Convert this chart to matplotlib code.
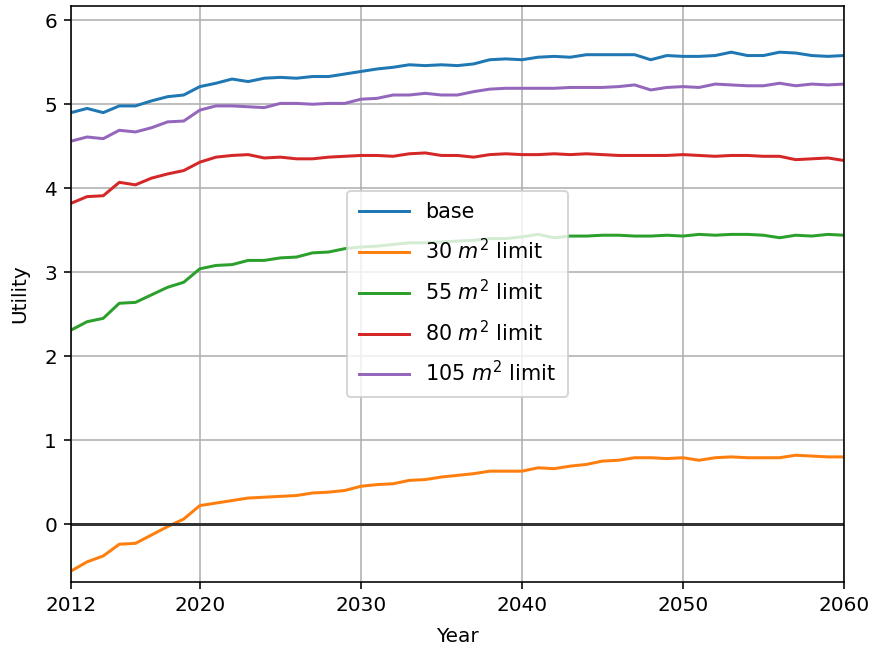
import numpy as np
import matplotlib
matplotlib.use("Agg")
import matplotlib.pyplot as plt

years = np.arange(2012, 2061)

base = [4.90, 4.95, 4.90, 4.98, 4.98, 5.04, 5.09, 5.11, 5.21, 5.25,
        5.30, 5.27, 5.31, 5.32, 5.31, 5.33, 5.33, 5.36, 5.39, 5.42,
        5.44, 5.47, 5.46, 5.47, 5.46, 5.48, 5.53, 5.54, 5.53, 5.56,
        5.57, 5.56, 5.59, 5.59, 5.59, 5.59, 5.53, 5.58, 5.57, 5.57,
        5.58, 5.62, 5.58, 5.58, 5.62, 5.61, 5.58, 5.57, 5.58]

limit_30 = [-0.56, -0.45, -0.38, -0.24, -0.23, -0.13, -0.03, 0.06, 0.22, 0.25,
            0.28, 0.31, 0.32, 0.33, 0.34, 0.37, 0.38, 0.40, 0.45, 0.47,
            0.48, 0.52, 0.53, 0.56, 0.58, 0.60, 0.63, 0.63, 0.63, 0.67,
            0.66, 0.69, 0.71, 0.75, 0.76, 0.79, 0.79, 0.78, 0.79, 0.76,
            0.79, 0.80, 0.79, 0.79, 0.79, 0.82, 0.81, 0.80, 0.80]

limit_55 = [2.31, 2.41, 2.45, 2.63, 2.64, 2.73, 2.82, 2.88, 3.04, 3.08,
            3.09, 3.14, 3.14, 3.17, 3.18, 3.23, 3.24, 3.28, 3.30, 3.31,
            3.33, 3.35, 3.35, 3.36, 3.37, 3.38, 3.40, 3.40, 3.42, 3.45,
            3.41, 3.43, 3.43, 3.44, 3.44, 3.43, 3.43, 3.44, 3.43, 3.45,
            3.44, 3.45, 3.45, 3.44, 3.41, 3.44, 3.43, 3.45, 3.44]

limit_80 = [3.82, 3.90, 3.91, 4.07, 4.04, 4.12, 4.17, 4.21, 4.31, 4.37,
            4.39, 4.40, 4.36, 4.37, 4.35, 4.35, 4.37, 4.38, 4.39, 4.39,
            4.38, 4.41, 4.42, 4.39, 4.39, 4.37, 4.40, 4.41, 4.40, 4.40,
            4.41, 4.40, 4.41, 4.40, 4.39, 4.39, 4.39, 4.39, 4.40, 4.39,
            4.38, 4.39, 4.39, 4.38, 4.38, 4.34, 4.35, 4.36, 4.33]

limit_105 = [4.56, 4.61, 4.59, 4.69, 4.67, 4.72, 4.79, 4.80, 4.93, 4.98,
             4.98, 4.97, 4.96, 5.01, 5.01, 5.00, 5.01, 5.01, 5.06, 5.07,
             5.11, 5.11, 5.13, 5.11, 5.11, 5.15, 5.18, 5.19, 5.19, 5.19,
             5.19, 5.20, 5.20, 5.20, 5.21, 5.23, 5.17, 5.20, 5.21, 5.20,
             5.24, 5.23, 5.22, 5.22, 5.25, 5.22, 5.24, 5.23, 5.24]

series = [base, limit_30, limit_55, limit_80, limit_105]
labels = ["base", "30 $m^2$ limit", "55 $m^2$ limit", "80 $m^2$ limit", "105 $m^2$ limit"]
xticks = [2012, 2020, 2030, 2040, 2050, 2060]

dpi = 144
fig = plt.figure(figsize=(873 / dpi, 647 / dpi), dpi=dpi)
ax = fig.add_axes([71 / 873, 1 - 582 / 647, (844 - 71) / 873, (582 - 6) / 647])

for values, label in zip(series, labels):
    ax.plot(years, values, label=label)

ax.axhline(0, color="#333333", linewidth=1.5)
ax.set_xlim(2012, 2060)
ax.set_ylim(-0.69, 6.17)
ax.set_xticks(xticks)
ax.set_yticks(range(0, 7))
ax.grid(True)
ax.set_xlabel("Year", labelpad=6)
ax.set_ylabel("Utility", labelpad=7.5)
ax.legend(loc="center", fontsize=10.4, labelspacing=0.75, handlelength=2.4,
          borderpad=0.55)

fig.savefig("out.png", dpi=dpi)
